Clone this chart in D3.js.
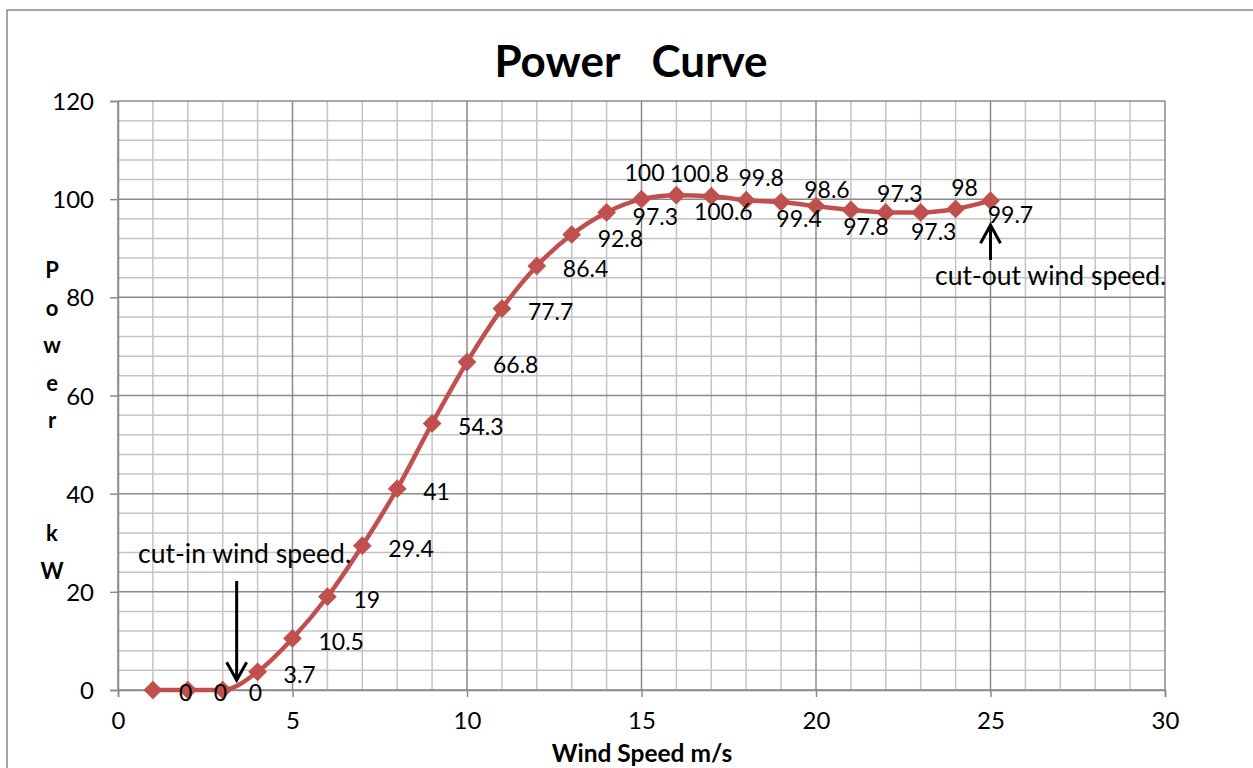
<!DOCTYPE html>
<html>
<head>
<meta charset="utf-8">
<script src="https://cdn.jsdelivr.net/npm/d3@7"></script>
<style>
	body { margin: 0; background: #fff; }
	svg { display: block; font-family: Lato, "Open Sans", sans-serif; }
</style>
</head>
<body>
<div id="chart"></div>
<script>
// Wind speed (m/s) and power output (kW)
const windSpeed = [1, 2, 3, 4, 5, 6, 7, 8, 9, 10, 11, 12, 13, 14, 15, 16, 17, 18, 19, 20, 21, 22, 23, 24, 25];
const power = [0, 0, 0, 3.7, 10.5, 19, 29.4, 41, 54.3, 66.8, 77.7, 86.4, 92.8, 97.3, 100, 100.8, 100.6, 99.8, 99.4, 98.6, 97.8, 97.3, 97.3, 98, 99.7];

const xTicks = [0, 5, 10, 15, 20, 25, 30];
const yTicks = [0, 20, 40, 60, 80, 100, 120];

const titleText = "Power   Curve";
const xTitle = "Wind Speed m/s";
const yTitle = "Power  kW";

// Annotation arrows (in data units)
const annotations = [
	{ text: "cut-in wind speed.", x: 3.4, from: 22.2, to: 2.0 },
	{ text: "cut-out wind speed.", x: 25, from: 87.6, to: 94.7 },
];

// Label placement, pixels relative to the marker (as placed in the original chart)
const labelPlacement = [
	["start", 26, 3], ["start", 26, 3], ["start", 26, 3], ["start", 26, 3], ["start", 26, 3],
	["start", 26, 3], ["start", 26, 3], ["start", 26, 3], ["start", 26, 3], ["start", 26, 3],
	["start", 26, 3], ["start", 26, 3], ["start", 26, 4], ["start", 26, 4],
	["middle", 3, -26], ["middle", 23, -22], ["middle", 12, 15], ["middle", 15, -22],
	["middle", 18, 17], ["middle", 11, -16], ["middle", 15, 17], ["middle", 14, -19],
	["middle", 13, 19], ["middle", 9, -21], ["middle", 20, 14],
];

const width = 1253;
const height = 768;
const margin = { top: 101, right: 88, bottom: 78, left: 118 };

const svg = d3
	.select("#chart")
	.append("svg")
	.attr("width", width)
	.attr("height", height);

// Chart border (cropped on the right and bottom)
svg.append("rect")
	.attr("x", 7)
	.attr("y", 10)
	.attr("width", 1300)
	.attr("height", 800)
	.attr("fill", "none")
	.attr("stroke", "#888")
	.attr("stroke-width", 1.5);

const x = d3.scaleLinear().domain([0, 30]).range([margin.left, width - margin.right]);
const y = d3.scaleLinear().domain([0, 120]).range([height - margin.bottom, margin.top]);

// Gridlines: minor first, then major
const grid = svg.append("g").attr("class", "grid");
const minorX = d3.range(0, 31, 1).filter((v) => v % 5 !== 0);
const minorY = d3.range(0, 121, 4).filter((v) => v % 20 !== 0);

grid.selectAll(".minor-x")
	.data(minorX)
	.join("line")
	.attr("x1", (d) => x(d))
	.attr("x2", (d) => x(d))
	.attr("y1", y(0))
	.attr("y2", y(120))
	.attr("stroke", "#c4c4c4")
	.attr("stroke-width", 1.5);

grid.selectAll(".minor-y")
	.data(minorY)
	.join("line")
	.attr("x1", x(0))
	.attr("x2", x(30))
	.attr("y1", (d) => y(d))
	.attr("y2", (d) => y(d))
	.attr("stroke", "#c4c4c4")
	.attr("stroke-width", 1.5);

grid.selectAll(".major-x")
	.data(xTicks)
	.join("line")
	.attr("x1", (d) => x(d))
	.attr("x2", (d) => x(d))
	.attr("y1", y(0))
	.attr("y2", y(120))
	.attr("stroke", "#8a8a8a")
	.attr("stroke-width", 1.5);

grid.selectAll(".major-y")
	.data(yTicks)
	.join("line")
	.attr("x1", x(0))
	.attr("x2", x(30))
	.attr("y1", (d) => y(d))
	.attr("y2", (d) => y(d))
	.attr("stroke", "#8a8a8a")
	.attr("stroke-width", 1.5);

// Axes
const xAxis = svg.append("g")
	.attr("transform", `translate(0,${y(0)})`)
	.call(d3.axisBottom(x).tickValues(xTicks).tickSize(7).tickPadding(15));

const yAxis = svg.append("g")
	.attr("transform", `translate(${x(0)},0)`)
	.call(d3.axisLeft(y).tickValues(yTicks).tickSize(8).tickPadding(16));

[xAxis, yAxis].forEach((ax) => {
	ax.select(".domain").attr("stroke", "#8a8a8a").attr("stroke-width", 1.5);
	ax.selectAll(".tick line").attr("stroke", "#8a8a8a").attr("stroke-width", 1.5);
	ax.selectAll(".tick text")
		.attr("fill", "#000")
		.style("font-family", "Lato, sans-serif")
		.style("font-size", "24px");
});
yAxis.selectAll(".tick text").attr("dy", "0.36em");

// Title
svg.append("text")
	.attr("x", 631)
	.attr("y", 77)
	.attr("text-anchor", "middle")
	.style("font-size", "44px")
	.style("font-weight", "bold")
	.style("white-space", "pre")
	.attr("xml:space", "preserve")
	.text(titleText);

// X axis title
svg.append("text")
	.attr("x", 642)
	.attr("y", 762)
	.attr("text-anchor", "middle")
	.style("font-size", "24.5px")
	.style("font-weight", "bold")
	.text(xTitle);

// Y axis title, stacked letters
svg.append("g")
	.selectAll("text")
	.data(yTitle.split(""))
	.join("text")
	.attr("x", 52)
	.attr("y", (d, i) => 278 + i * 37.6)
	.attr("text-anchor", "middle")
	.style("font-size", "22px")
	.style("font-weight", "bold")
	.text((d) => d);

// Series
const points = windSpeed.map((w, i) => ({ x: w, y: power[i], label: labelPlacement[i] }));

const line = d3
	.line()
	.x((d) => x(d.x))
	.y((d) => y(d.y))
	.curve(d3.curveMonotoneX);

svg.append("path")
	.datum(points)
	.attr("d", line)
	.attr("fill", "none")
	.attr("stroke", "#c0504d")
	.attr("stroke-width", 4.5)
	.attr("stroke-linejoin", "round");

const diamond = d3.symbol(d3.symbolSquare).size(150);

svg.append("g")
	.selectAll("path")
	.data(points)
	.join("path")
	.attr("d", diamond)
	.attr("transform", (d) => `translate(${x(d.x)},${y(d.y)}) rotate(45)`)
	.attr("fill", "#c0504d")
	.attr("stroke", "#c0504d")
	.attr("stroke-width", 1);

// Data labels
svg.append("g")
	.selectAll("text")
	.data(points)
	.join("text")
	.attr("x", (d) => x(d.x) + d.label[1])
	.attr("y", (d) => y(d.y) + d.label[2])
	.attr("dy", "0.36em")
	.attr("text-anchor", (d) => d.label[0])
	.style("font-size", "23px")
	.text((d) => d.y);

// Annotations with arrows
const ann = svg.append("g").attr("class", "annotations");

annotations.forEach((a) => {
	const ax = x(a.x);
	const y1 = y(a.from);
	const y2 = y(a.to);
	const dir = y2 > y1 ? 1 : -1;

	ann.append("line")
		.attr("x1", ax)
		.attr("x2", ax)
		.attr("y1", y1)
		.attr("y2", y2)
		.attr("stroke", "#000")
		.attr("stroke-width", 3);

	ann.append("path")
		.attr("d", `M${ax - 10},${y2 - dir * 18}L${ax},${y2}L${ax + 10},${y2 - dir * 18}`)
		.attr("fill", "none")
		.attr("stroke", "#000")
		.attr("stroke-width", 3);
});

ann.append("text")
	.attr("x", 138)
	.attr("y", 553)
	.attr("dy", "0.36em")
	.style("font-size", "26.5px")
	.text(annotations[0].text);

ann.append("text")
	.attr("x", 935)
	.attr("y", 275)
	.attr("dy", "0.36em")
	.style("font-size", "26.5px")
	.text(annotations[1].text);
</script>
</body>
</html>
